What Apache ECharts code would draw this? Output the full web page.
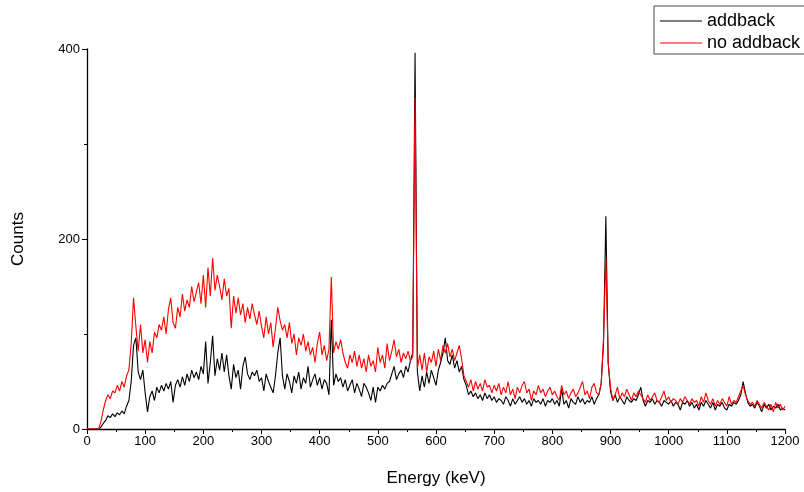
<!DOCTYPE html>
<html><head><meta charset="utf-8">
<script src="https://cdn.jsdelivr.net/npm/echarts@6/dist/echarts.min.js"></script>
<style>html,body{margin:0;padding:0;background:#fff}#c{width:804px;height:492px}</style>
</head><body><div id="c"></div>
<script>
const binWidth = 4; // keV per sample, energies 0..1200
const seriesNames = ["addback", "no addback"];
const xTicks = [0,100,200,300,400,500,600,700,800,900,1000,1100,1200];
const yTicks = [0,200,400];

const addback = [
0,0,0,0,0,0,2,6,9,14,12,16,13,17,15,19,16,24,30,50,88,96,60,52,62,
38,18,34,40,30,44,38,46,40,48,42,50,28,46,52,44,55,46,58,50,62,54,60,52,66,
58,92,48,70,98,56,74,62,80,60,78,56,42,68,54,62,42,66,76,58,52,60,56,62,50,
54,40,58,50,44,38,56,80,96,56,42,58,50,38,56,48,60,42,54,48,66,44,52,58,46,
54,42,52,48,36,115,46,58,50,54,44,52,40,46,52,38,48,42,34,48,44,38,30,44,28,
44,40,46,42,48,50,58,66,52,58,62,54,66,60,72,80,396,60,40,56,44,60,48,62,54,
46,62,70,80,96,72,68,78,64,72,60,66,52,46,36,40,34,38,32,36,30,38,32,36,30,
34,28,32,30,26,34,30,24,32,26,30,34,28,32,26,30,24,32,28,30,26,32,24,30,28,
32,26,30,24,42,26,30,22,32,28,26,34,28,32,26,30,28,34,26,32,36,48,90,224,70,
40,30,36,28,34,30,26,34,30,28,32,30,36,44,30,24,30,28,32,26,30,28,24,30,28,
26,30,24,28,26,20,28,26,30,24,28,22,26,20,28,24,30,26,22,28,20,26,24,28,22,
20,26,24,28,26,30,36,50,38,28,24,26,22,28,24,18,26,22,26,20,24,22,26,20,22,
20
];

const noAddback = [
0,0,0,0,0,0,8,20,30,36,32,40,38,46,40,50,44,56,62,90,138,108,82,110,80,
94,70,92,80,102,96,110,104,118,100,126,138,112,106,128,118,142,124,136,128,150,134,144,154,132,
162,128,170,140,180,146,162,150,136,158,140,148,106,140,122,138,120,132,112,128,116,132,120,110,124,
108,96,118,100,112,86,106,128,114,104,110,96,112,90,100,78,96,88,100,82,92,78,86,70,90,
102,78,88,72,84,160,80,92,84,94,80,70,64,78,70,82,66,78,64,74,60,78,66,72,60,
86,70,78,64,90,72,82,94,76,84,70,80,74,82,72,76,349,64,78,62,80,60,76,70,82,
66,84,72,88,80,90,76,84,72,80,88,74,56,50,44,52,40,50,42,48,40,52,44,46,38,
46,40,48,36,44,38,50,36,42,32,44,38,46,50,38,42,30,40,36,46,38,42,34,40,44,
36,40,34,30,46,36,40,32,38,42,34,38,44,50,36,40,32,44,48,38,36,48,96,181,70,
44,30,36,44,32,38,34,42,36,30,38,34,40,36,32,28,36,30,34,38,30,28,34,40,30,
34,28,32,30,26,32,28,34,30,26,32,28,30,24,34,28,38,30,26,32,24,30,26,32,28,
24,34,26,30,28,34,40,46,36,30,26,28,24,30,26,22,28,24,20,26,18,28,22,26,20,
24
];

const energies = addback.map((_, i) => i * binWidth);
const pairs = arr => arr.map((v, i) => [energies[i], v]);

const font = "'Liberation Sans', Arial, sans-serif";
const chart = echarts.init(document.getElementById('c'), null, {renderer: 'canvas'});
chart.setOption({
  animation: false,
  backgroundColor: '#fff',
  grid: {left: 87, right: 19, top: 49, bottom: 63, containLabel: false},
  legend: {
    orient: 'vertical', left: 654, top: 6,
    data: seriesNames.map(n => ({name: n, icon: 'rect'})),
    itemWidth: 42, itemHeight: 1, itemGap: 4,
    padding: [6, 10, 2, 6],
    borderColor: '#444', borderWidth: 1,
    textStyle: {fontFamily: font, fontSize: 18, color: '#000', lineHeight: 18}
  },
  xAxis: {
    type: 'value', min: 0, max: 1200, interval: 100,
    name: 'Energy (keV)', nameLocation: 'middle', nameGap: 41,
    nameTextStyle: {fontFamily: font, fontSize: 17, color: '#000'},
    axisLine: {show: true, onZero: false, lineStyle: {color: '#000', width: 1.3}},
    axisTick: {show: true, inside: false, length: 5, lineStyle: {color: '#000'}},
    minorTick: {show: true, splitNumber: 2, length: 3, lineStyle: {color: '#000'}},
    axisLabel: {fontFamily: font, fontSize: 13, color: '#000', margin: 6,
                formatter: v => (xTicks.indexOf(v) >= 0 ? String(v) : '')},
    splitLine: {show: false}
  },
  yAxis: {
    type: 'value', min: 0, max: 400, interval: 200,
    name: 'Counts', nameLocation: 'middle', nameGap: 60, nameRotate: 90,
    nameTextStyle: {fontFamily: font, fontSize: 17, color: '#000'},
    axisLine: {show: true, lineStyle: {color: '#000', width: 1.3}},
    axisTick: {show: true, inside: false, length: 5, lineStyle: {color: '#000'}},
    minorTick: {show: true, splitNumber: 2, length: 3, lineStyle: {color: '#000'}},
    axisLabel: {fontFamily: font, fontSize: 13, color: '#000', margin: 7,
                formatter: v => (yTicks.indexOf(v) >= 0 ? String(v) : '')},
    splitLine: {show: false}
  },
  series: [
    {name: seriesNames[0], type: 'line', data: pairs(addback), symbol: 'none',
     lineStyle: {color: '#000', width: 1.1}, itemStyle: {color: '#000'}},
    {name: seriesNames[1], type: 'line', data: pairs(noAddback), symbol: 'none',
     lineStyle: {color: '#ff0000', width: 1.1}, itemStyle: {color: '#ff0000'}}
  ]
});
</script></body></html>
